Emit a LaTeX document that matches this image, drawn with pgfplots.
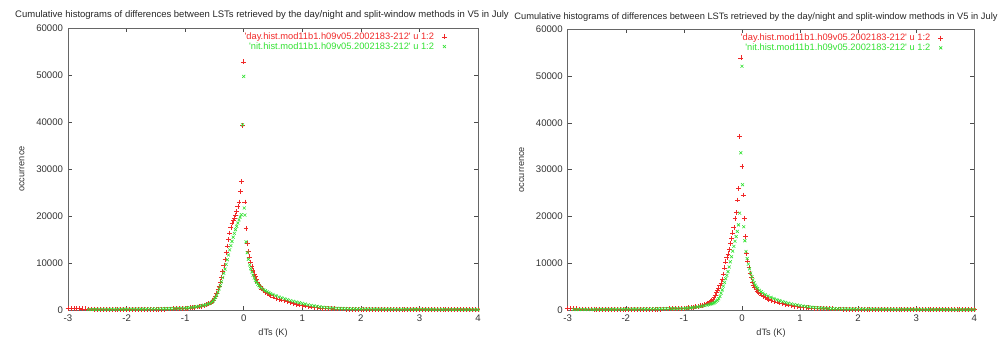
\documentclass[border=0pt]{standalone}
\usepackage{pgfplots}
\pgfplotsset{compat=1.18}
\usepackage{fontspec}
\setmainfont{Liberation Sans}
\definecolor{gpred}{RGB}{240,40,40}
\definecolor{gpgreen}{RGB}{50,225,50}
\pgfplotsset{
  histax/.style={
    scale only axis, anchor=south west,
    xmin=-3, xmax=4, ymin=0, ymax=60000,
    xtick={-3,-2,-1,0,1,2,3,4},
    ytick={0,10000,20000,30000,40000,50000,60000},
    scaled ticks=false,
    /pgf/number format/1000 sep={},
    /pgf/number format/assume math mode=true,
    tick align=inside, tick pos=both,
    major tick length=4pt,
    tick style={black!70, line width=0.5pt},
    axis line style={black!60, line width=0.8pt},
    tick label style={font=\fontsize{9.6}{10}\selectfont, text=black!80},
    yticklabel style={xshift=-1.5pt},
    xticklabel style={yshift=-1pt},
    xlabel={dTs (K)}, ylabel={occurrence},
    xlabel style={at={(axis description cs:0.5,0)}, anchor=center, yshift=-23pt, font=\fontsize{9.2}{10}\selectfont, text=black!80},
    ylabel style={at={(axis description cs:0,0.5)}, anchor=center, yshift=46pt, font=\fontsize{9.2}{10}\selectfont, text=black!80},
    clip=false,
    legend style={at={(1,1)}, anchor=north east, xshift=-30pt, yshift=-1.5pt, draw=none, fill=none,
      font=\fontsize{9.3}{10}\selectfont, row sep=-2.5pt, inner sep=1pt},
    legend cell align=right, legend plot pos=right,
  },
  redp/.style={only marks, mark=+, mark size=2.4pt, gpred, mark options={line width=0.6pt, gpred}},
  greenp/.style={only marks, mark=x, mark size=2.1pt, gpgreen, mark options={line width=0.6pt, gpgreen}},
}
\newcommand{\qq}{\textquotesingle}
\begin{document}
\begin{tikzpicture}
\path[use as bounding box] (0pt,0pt) rectangle (1003pt,338pt);
% ---------------- left panel ----------------
\begin{axis}[histax, at={(68pt,28pt)}, width=410pt, height=282pt]
\addplot[redp] coordinates {
(-3.00,350)(-2.95,320)(-2.90,300)(-2.85,280)(-2.80,260)(-2.75,250)(-2.70,240)(-2.65,220)(-2.60,200)(-2.55,190)(-2.50,180)(-2.45,170)(-2.40,160)(-2.35,150)(-2.30,150)(-2.25,140)(-2.20,140)(-2.15,130)(-2.10,130)(-2.05,120)(-2.00,120)(-1.95,120)(-1.90,120)(-1.85,120)(-1.80,130)(-1.75,130)(-1.70,140)(-1.65,140)(-1.60,150)(-1.55,150)(-1.50,160)(-1.45,170)(-1.40,180)(-1.35,190)(-1.30,200)(-1.25,220)(-1.20,240)(-1.15,260)(-1.10,290)(-1.05,320)
(-1.00,360)(-0.96,400)(-0.92,450)(-0.88,500)(-0.84,560)(-0.80,630)(-0.76,720)(-0.72,820)(-0.68,950)(-0.64,1100)(-0.60,1300)(-0.57,1500)(-0.54,1800)(-0.52,2100)(-0.50,2500)(-0.48,3000)(-0.46,3600)(-0.44,4300)(-0.42,5100)(-0.40,6000)(-0.38,7000)(-0.36,8200)(-0.34,9500)(-0.32,10800)(-0.30,12200)(-0.28,13600)(-0.26,15000)(-0.24,16400)(-0.22,17600)(-0.20,18500)(-0.18,19100)(-0.16,19600)(-0.14,20200)(-0.12,21000)(-0.10,22000)(-0.08,23000)(-0.06,25200)(-0.04,27300)(-0.02,39300)(0.00,52800)
(0.02,23000)(0.04,17400)(0.06,14200)(0.08,12500)(0.10,11300)(0.12,10200)(0.14,9200)(0.16,8400)(0.18,7700)(0.20,7100)(0.22,6500)(0.24,5900)(0.26,5400)(0.28,5000)(0.31,4500)(0.34,4100)(0.37,3700)(0.40,3500)(0.43,3300)(0.46,3100)(0.50,2800)(0.55,2500)(0.60,2300)(0.65,2150)(0.70,2000)(0.75,1800)(0.80,1600)(0.85,1400)(0.90,1250)(0.95,1100)(1.00,950)(1.05,850)(1.10,750)(1.15,650)(1.20,560)(1.25,480)(1.30,420)(1.35,370)(1.40,330)(1.45,300)(1.50,270)
(1.55,250)(1.60,230)(1.65,210)(1.70,200)(1.75,190)(1.80,180)(1.85,170)(1.90,160)(1.95,150)(2.00,150)(2.05,140)(2.10,140)(2.15,130)(2.20,130)(2.25,120)(2.30,120)(2.35,120)(2.40,110)(2.45,110)(2.50,110)(2.55,100)(2.60,100)(2.65,100)(2.70,100)(2.75,90)(2.80,90)(2.85,90)(2.90,90)(2.95,90)(3.00,80)(3.05,80)(3.10,80)(3.15,80)(3.20,80)(3.25,80)(3.30,70)(3.35,70)(3.40,70)(3.45,70)(3.50,70)(3.55,70)(3.60,70)(3.65,60)(3.70,60)(3.75,60)(3.80,60)(3.85,60)(3.90,60)(3.95,60)(4.00,60)
};
\addlegendentry{\textcolor{gpred}{\qq day.hist.mod11b1.h09v05.2002183-212\qq\ u 1:2}\hspace*{6pt}}
\addplot[greenp] coordinates {
(-2.65,100)(-2.60,110)(-2.55,110)(-2.50,120)(-2.45,120)(-2.40,130)(-2.35,130)(-2.30,140)(-2.25,140)(-2.20,150)(-2.15,150)(-2.10,160)(-2.05,160)(-2.00,170)(-1.95,170)(-1.90,180)(-1.85,180)(-1.80,190)(-1.75,190)(-1.70,200)(-1.65,210)(-1.60,220)(-1.55,230)(-1.50,240)(-1.45,250)(-1.40,260)(-1.35,270)(-1.30,280)(-1.25,300)(-1.20,320)(-1.15,340)(-1.10,360)(-1.05,380)
(-1.00,400)(-0.96,450)(-0.92,500)(-0.88,560)(-0.84,620)(-0.80,700)(-0.76,800)(-0.72,900)(-0.68,1000)(-0.64,1150)(-0.60,1300)(-0.57,1450)(-0.54,1700)(-0.52,1950)(-0.50,2300)(-0.48,2700)(-0.46,3200)(-0.44,3800)(-0.42,4500)(-0.40,5200)(-0.38,6000)(-0.36,6900)(-0.34,7800)(-0.32,8700)(-0.30,9700)(-0.28,10700)(-0.26,11700)(-0.24,12800)(-0.22,13700)(-0.20,14600)(-0.18,15500)(-0.16,16300)(-0.14,17100)(-0.12,17800)(-0.10,18500)(-0.08,19200)(-0.06,19800)(-0.04,20300)(-0.02,39400)(0.00,49700)
(0.01,21700)(0.02,20200)(0.04,14500)(0.06,12200)(0.08,10800)(0.10,9600)(0.12,8800)(0.14,8100)(0.16,7400)(0.18,6800)(0.20,6300)(0.22,5900)(0.24,5500)(0.26,5200)(0.28,4900)(0.31,4600)(0.34,4300)(0.37,4100)(0.40,3900)(0.43,3700)(0.46,3500)(0.50,3300)(0.55,3050)(0.60,2800)(0.65,2600)(0.70,2400)(0.75,2200)(0.80,2000)(0.85,1850)(0.90,1700)(0.95,1550)(1.00,1400)(1.05,1250)(1.10,1100)(1.15,980)(1.20,870)(1.25,770)(1.30,680)(1.35,600)(1.40,530)(1.45,470)(1.50,420)
(1.55,380)(1.60,350)(1.65,320)(1.70,300)(1.75,280)(1.80,260)(1.85,250)(1.90,240)(1.95,230)(2.00,220)(2.05,210)(2.10,200)(2.15,200)(2.20,190)(2.25,190)(2.30,180)(2.35,180)(2.40,170)(2.45,170)(2.50,160)(2.55,160)(2.60,160)(2.65,150)(2.70,150)(2.75,150)(2.80,140)(2.85,140)(2.90,140)(2.95,130)(3.00,130)(3.05,130)(3.10,120)(3.15,120)(3.20,120)(3.25,120)(3.30,110)(3.35,110)(3.40,110)(3.45,110)(3.50,100)(3.55,100)(3.60,100)(3.65,100)(3.70,100)(3.75,90)(3.80,90)(3.85,90)(3.90,90)(3.95,90)(4.00,90)
};
\addlegendentry{\textcolor{gpgreen}{\qq nit.hist.mod11b1.h09v05.2002183-212\qq\ u 1:2}\hspace*{6pt}}
\end{axis}
% ---------------- right panel ----------------
\begin{axis}[histax, at={(567.7pt,28pt)}, width=406.6pt, height=280.7pt]
\addplot[redp] coordinates {
(-3.00,300)(-2.95,280)(-2.90,260)(-2.85,240)(-2.80,230)(-2.75,220)(-2.70,210)(-2.65,200)(-2.60,200)(-2.55,190)(-2.50,180)(-2.45,170)(-2.40,160)(-2.35,150)(-2.30,150)(-2.25,140)(-2.20,140)(-2.15,130)(-2.10,130)(-2.05,130)(-2.00,120)(-1.95,120)(-1.90,120)(-1.85,120)(-1.80,130)(-1.75,130)(-1.70,140)(-1.65,140)(-1.60,150)(-1.55,160)(-1.50,170)(-1.45,180)(-1.40,190)(-1.35,200)(-1.30,220)(-1.25,240)(-1.20,260)(-1.15,280)(-1.10,310)(-1.05,340)
(-1.00,380)(-0.96,420)(-0.92,470)(-0.88,530)(-0.84,600)(-0.80,680)(-0.76,770)(-0.72,880)(-0.68,1000)(-0.64,1150)(-0.60,1350)(-0.57,1550)(-0.54,1800)(-0.52,2050)(-0.50,2300)(-0.48,2700)(-0.46,3200)(-0.44,3700)(-0.42,4200)(-0.40,4700)(-0.38,5200)(-0.36,5800)(-0.34,6600)(-0.32,7700)(-0.30,9000)(-0.28,10300)(-0.26,11300)(-0.24,12000)(-0.22,13000)(-0.20,14200)(-0.18,15300)(-0.16,16500)(-0.14,17600)(-0.12,19600)(-0.10,20800)(-0.08,23500)(-0.06,26000)(-0.04,37100)(-0.02,53900)
(0.00,30700)(0.02,24600)(0.04,19600)(0.06,15700)(0.08,12100)(0.10,10500)(0.12,9200)(0.14,7900)(0.16,6900)(0.18,6000)(0.20,5300)(0.22,4800)(0.24,4400)(0.26,4000)(0.28,3800)(0.31,3500)(0.34,3200)(0.37,2900)(0.40,2700)(0.43,2500)(0.46,2300)(0.50,2100)(0.55,1900)(0.60,1700)(0.65,1500)(0.70,1350)(0.75,1200)(0.80,1050)(0.85,930)(0.90,820)(0.95,730)(1.00,650)(1.05,580)(1.10,520)(1.15,460)(1.20,410)(1.25,370)(1.30,330)(1.35,300)(1.40,280)(1.45,260)(1.50,250)
(1.55,240)(1.60,230)(1.65,210)(1.70,200)(1.75,190)(1.80,180)(1.85,170)(1.90,160)(1.95,150)(2.00,150)(2.05,140)(2.10,140)(2.15,130)(2.20,130)(2.25,120)(2.30,120)(2.35,120)(2.40,110)(2.45,110)(2.50,110)(2.55,100)(2.60,100)(2.65,100)(2.70,100)(2.75,90)(2.80,90)(2.85,90)(2.90,90)(2.95,90)(3.00,80)(3.05,80)(3.10,80)(3.15,80)(3.20,80)(3.25,80)(3.30,70)(3.35,70)(3.40,70)(3.45,70)(3.50,70)(3.55,70)(3.60,70)(3.65,60)(3.70,60)(3.75,60)(3.80,60)(3.85,60)(3.90,60)(3.95,60)(4.00,60)
};
\addlegendentry{\textcolor{gpred}{\qq day.hist.mod11b1.h09v05.2002183-212\qq\ u 1:2}\hspace*{6pt}}
\addplot[greenp] coordinates {
(-2.90,100)(-2.85,100)(-2.80,110)(-2.75,110)(-2.70,110)(-2.65,110)(-2.60,110)(-2.55,110)(-2.50,120)(-2.45,120)(-2.40,130)(-2.35,130)(-2.30,140)(-2.25,140)(-2.20,150)(-2.15,150)(-2.10,160)(-2.05,160)(-2.00,170)(-1.95,170)(-1.90,180)(-1.85,180)(-1.80,190)(-1.75,190)(-1.70,200)(-1.65,210)(-1.60,220)(-1.55,230)(-1.50,240)(-1.45,250)(-1.40,260)(-1.35,270)(-1.30,280)(-1.25,290)(-1.20,300)(-1.15,310)(-1.10,320)(-1.05,330)
(-1.00,350)(-0.96,390)(-0.92,430)(-0.88,480)(-0.84,540)(-0.80,600)(-0.76,680)(-0.72,760)(-0.68,850)(-0.64,950)(-0.60,1050)(-0.57,1150)(-0.54,1250)(-0.52,1330)(-0.50,1400)(-0.48,1550)(-0.46,1700)(-0.44,1900)(-0.42,2100)(-0.40,2400)(-0.38,2900)(-0.36,3600)(-0.34,4300)(-0.32,5100)(-0.30,5900)(-0.28,6700)(-0.26,7400)(-0.24,8200)(-0.22,9200)(-0.20,10300)(-0.18,11400)(-0.16,12600)(-0.14,13600)(-0.12,14700)(-0.10,15700)(-0.08,16800)(-0.06,18200)(-0.04,20700)(-0.02,33600)(0.00,52100)
(0.01,26800)(0.03,17800)(0.05,14800)(0.07,12500)(0.09,11000)(0.11,9800)(0.13,8800)(0.15,7900)(0.17,7100)(0.19,6400)(0.21,5800)(0.23,5300)(0.25,4900)(0.27,4600)(0.30,4200)(0.33,3900)(0.36,3600)(0.40,3300)(0.45,3000)(0.50,2700)(0.55,2450)(0.60,2200)(0.65,2000)(0.70,1800)(0.75,1620)(0.80,1460)(0.85,1310)(0.90,1180)(0.95,1060)(1.00,950)(1.05,850)(1.10,760)(1.15,680)(1.20,600)(1.25,540)(1.30,480)(1.35,430)(1.40,390)(1.45,350)(1.50,320)
(1.55,300)(1.60,280)(1.65,260)(1.70,250)(1.75,240)(1.80,230)(1.85,220)(1.90,210)(1.95,200)(2.00,200)(2.05,190)(2.10,190)(2.15,180)(2.20,180)(2.25,170)(2.30,170)(2.35,160)(2.40,160)(2.45,150)(2.50,150)(2.55,150)(2.60,140)(2.65,140)(2.70,140)(2.75,130)(2.80,130)(2.85,130)(2.90,120)(2.95,120)(3.00,120)(3.05,110)(3.10,110)(3.15,110)(3.20,110)(3.25,100)(3.30,100)(3.35,100)(3.40,100)(3.45,100)(3.50,90)(3.55,90)(3.60,90)(3.65,90)(3.70,90)(3.75,90)(3.80,80)(3.85,80)(3.90,80)(3.95,80)(4.00,80)
};
\addlegendentry{\textcolor{gpgreen}{\qq nit.hist.mod11b1.h09v05.2002183-212\qq\ u 1:2}\hspace*{6pt}}
\end{axis}
% titles
\node[font=\fontsize{9.5}{10}\selectfont, text=black!85] at (262pt,323pt) {Cumulative histograms of differences between LSTs retrieved by the day/night and split-window methods in V5 in July};
\node[font=\fontsize{9.3}{10}\selectfont, text=black!85] at (756pt,321pt) {Cumulative histograms of differences between LSTs retrieved by the day/night and split-window methods in V5 in July};
\end{tikzpicture}
\end{document}
